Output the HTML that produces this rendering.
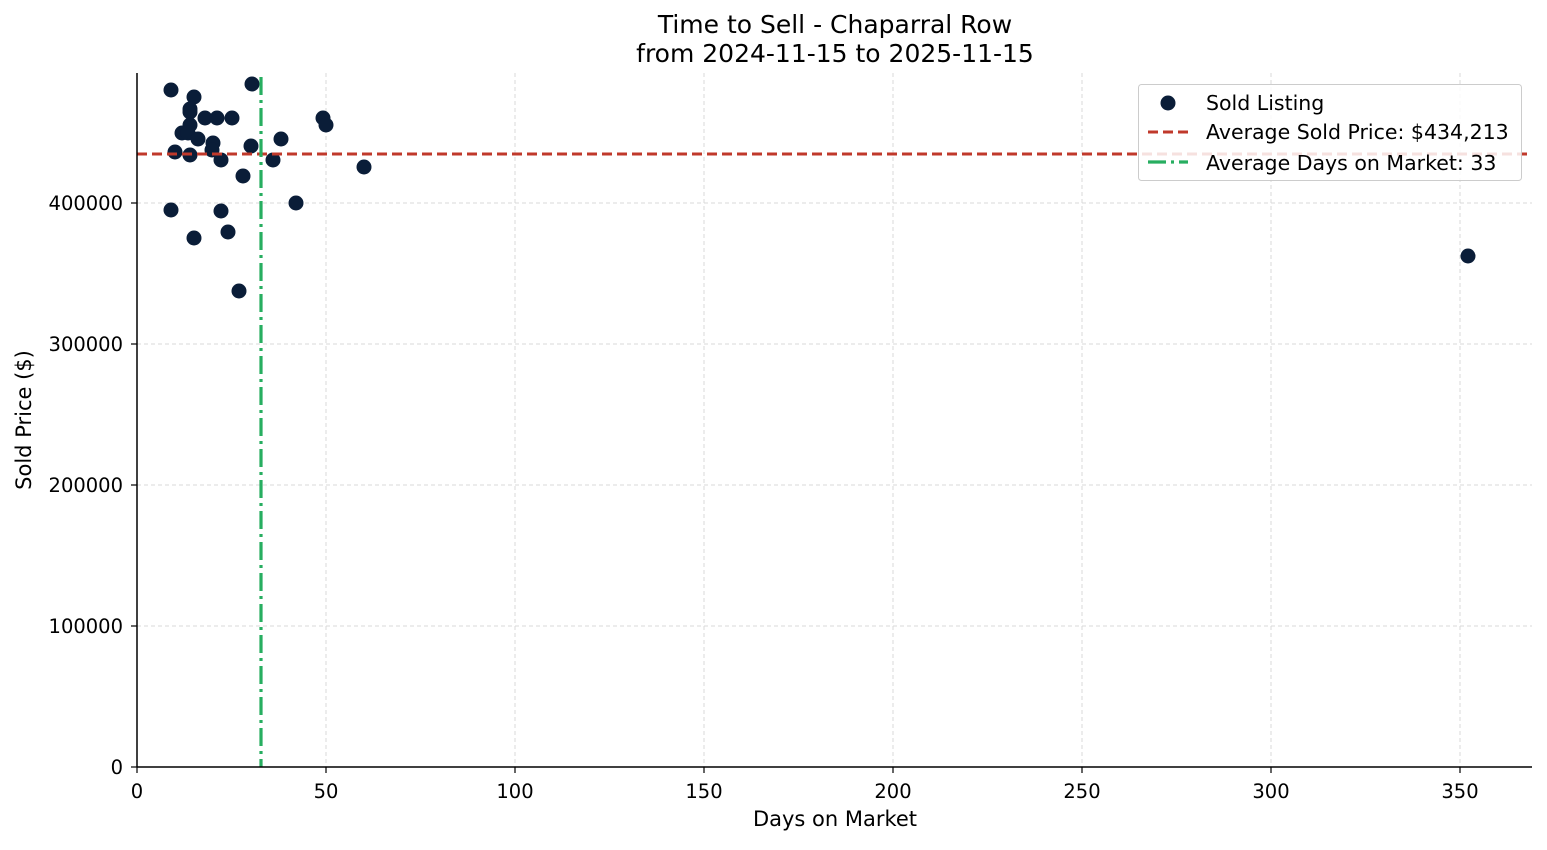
<!DOCTYPE html>
<html><head><style>body{margin:0;background:#fff}</style></head><body>
<svg width="1547" height="845" xmlns="http://www.w3.org/2000/svg" font-family="'DejaVu Sans','Liberation Sans',sans-serif">
<rect width="1547" height="845" fill="#fff"/>
<g stroke="#d9d9d9" stroke-width="1" stroke-dasharray="4,3">
<line x1="326" y1="73" x2="326" y2="767"/><line x1="515" y1="73" x2="515" y2="767"/><line x1="704" y1="73" x2="704" y2="767"/><line x1="893" y1="73" x2="893" y2="767"/><line x1="1082" y1="73" x2="1082" y2="767"/><line x1="1271" y1="73" x2="1271" y2="767"/><line x1="1460" y1="73" x2="1460" y2="767"/>
<line x1="137" y1="626" x2="1532" y2="626"/><line x1="137" y1="485" x2="1532" y2="485"/><line x1="137" y1="344" x2="1532" y2="344"/><line x1="137" y1="203" x2="1532" y2="203"/>
</g>
<g fill="#0a1d38">
<circle cx="171" cy="90" r="7.5"/><circle cx="252" cy="84" r="7.5"/><circle cx="194" cy="97" r="7.5"/><circle cx="190" cy="109" r="7.5"/><circle cx="190" cy="112" r="7.5"/><circle cx="205" cy="118" r="7.5"/><circle cx="217" cy="118" r="7.5"/><circle cx="232" cy="118" r="7.5"/><circle cx="323" cy="118" r="7.5"/><circle cx="326" cy="125" r="7.5"/><circle cx="190" cy="125" r="7.5"/><circle cx="182" cy="133" r="7.5"/><circle cx="188" cy="133" r="7.5"/><circle cx="198" cy="139" r="7.5"/><circle cx="281" cy="139" r="7.5"/><circle cx="213" cy="143" r="7.5"/><circle cx="251" cy="146" r="7.5"/><circle cx="175" cy="152" r="7.5"/><circle cx="190" cy="155" r="7.5"/><circle cx="212" cy="150" r="7.5"/><circle cx="221" cy="160" r="7.5"/><circle cx="273" cy="160" r="7.5"/><circle cx="364" cy="167" r="7.5"/><circle cx="243" cy="176" r="7.5"/><circle cx="296" cy="203" r="7.5"/><circle cx="171" cy="210" r="7.5"/><circle cx="221" cy="211" r="7.5"/><circle cx="228" cy="232" r="7.5"/><circle cx="194" cy="238" r="7.5"/><circle cx="239" cy="291" r="7.5"/><circle cx="1468" cy="256" r="7.5"/>
</g>
<line x1="137" y1="154" x2="1532" y2="154" stroke="#c0392b" stroke-width="3" stroke-dasharray="10,5"/>
<line x1="261" y1="77" x2="261" y2="767" stroke="#27ae60" stroke-width="3.2" stroke-dasharray="18,5,3,5"/>
<g stroke="#000" stroke-width="1.5">
<line x1="137" y1="73" x2="137" y2="767"/><line x1="137" y1="767" x2="1532" y2="767"/>
</g>
<g stroke="#000" stroke-width="1.2">
<line x1="137" y1="767" x2="137" y2="773"/><line x1="326" y1="767" x2="326" y2="773"/><line x1="515" y1="767" x2="515" y2="773"/><line x1="704" y1="767" x2="704" y2="773"/><line x1="893" y1="767" x2="893" y2="773"/><line x1="1082" y1="767" x2="1082" y2="773"/><line x1="1271" y1="767" x2="1271" y2="773"/><line x1="1460" y1="767" x2="1460" y2="773"/>
<line x1="131" y1="767" x2="137" y2="767"/><line x1="131" y1="626" x2="137" y2="626"/><line x1="131" y1="485" x2="137" y2="485"/><line x1="131" y1="344" x2="137" y2="344"/><line x1="131" y1="203" x2="137" y2="203"/>
</g>
<g font-size="19.5" text-anchor="middle" fill="#000">
<text x="137" y="798">0</text><text x="326" y="798">50</text><text x="515" y="798">100</text><text x="704" y="798">150</text><text x="893" y="798">200</text><text x="1082" y="798">250</text><text x="1271" y="798">300</text><text x="1460" y="798">350</text>
</g>
<g font-size="19.5" text-anchor="end" fill="#000">
<text x="123" y="774">0</text><text x="123" y="633">100000</text><text x="123" y="492">200000</text><text x="123" y="351">300000</text><text x="123" y="210">400000</text>
</g>
<text x="835" y="826" font-size="21" text-anchor="middle">Days on Market</text>
<text transform="translate(31,420) rotate(-90)" font-size="21" text-anchor="middle">Sold Price ($)</text>
<text x="835" y="33" font-size="25" text-anchor="middle">Time to Sell - Chaparral Row</text>
<text x="835" y="62" font-size="25" text-anchor="middle">from 2024-11-15 to 2025-11-15</text>
<rect x="1138.5" y="84.5" width="383" height="96" rx="3" fill="#fff" fill-opacity="0.85" stroke="#ccc"/>
<circle cx="1168" cy="103" r="7.5" fill="#0a1d38"/>
<line x1="1148" y1="132" x2="1188" y2="132" stroke="#c0392b" stroke-width="3" stroke-dasharray="10,5"/>
<line x1="1148" y1="162" x2="1188" y2="162" stroke="#27ae60" stroke-width="3.2" stroke-dasharray="18,5,3,5"/>
<g font-size="20.5" fill="#000">
<text x="1206" y="110">Sold Listing</text>
<text x="1206" y="139">Average Sold Price: $434,213</text>
<text x="1206" y="170">Average Days on Market: 33</text>
</g>
</svg>
</body></html>
